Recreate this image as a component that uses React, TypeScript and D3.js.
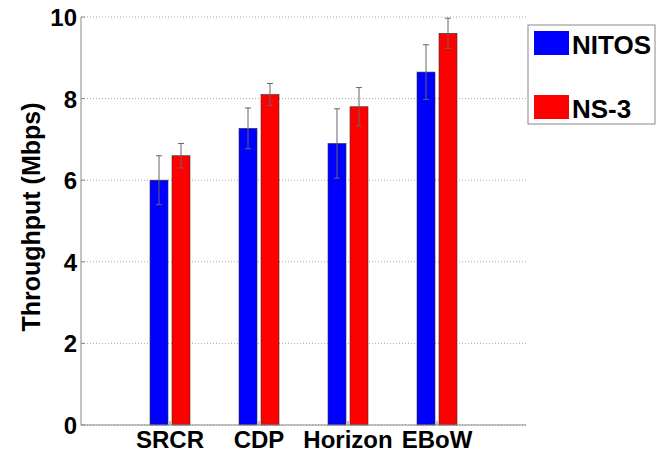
import React from 'react'
import * as d3 from 'd3'

const categories = ['SRCR', 'CDP', 'Horizon', 'EBoW']
const seriesNames = ['NITOS', 'NS-3']
const seriesColors = ['#0000ff', '#ff0000']
const nitosValues = [6.0, 7.27, 6.9, 8.65]
const nitosErrors = [0.6, 0.5, 0.85, 0.67]
const ns3Values = [6.6, 8.1, 7.8, 9.6]
const ns3Errors = [0.3, 0.27, 0.47, 0.37]
const yTicks = [0, 2, 4, 6, 8, 10]

const W = 656
const H = 454
const left = 81
const right = 526
const top = 17
const bottom = 425
const font = '"Liberation Sans", Arial, sans-serif'

export default function App() {
    const x = d3.scaleLinear().domain([0, 5]).range([left, right])
    const y = d3.scaleLinear().domain([0, 10]).range([bottom, top])
    const barW = 18
    const gap = 4
    const series = [
        { values: nitosValues, errors: nitosErrors },
        { values: ns3Values, errors: ns3Errors },
    ]

    return (
        <svg width={W} height={H} style={{ position: 'absolute', left: 0, top: 0, background: 'white' }}>
            {/* grid */}
            {yTicks.map(t => (
                <line key={'g' + t} x1={left} x2={right} y1={y(t)} y2={y(t)}
                    stroke="#aaa" strokeWidth={1} strokeDasharray="1,2" />
            ))}
            {/* bars */}
            {series.map((s, si) => s.values.map((v, i) => {
                const cx = x(i + 1)
                const bx = si === 0 ? cx - gap / 2 - barW : cx + gap / 2
                const mid = bx + barW / 2
                const e = s.errors[i]
                return (
                    <g key={si + '-' + i}>
                        <rect x={bx} y={y(v)} width={barW} height={y(0) - y(v)}
                            fill={seriesColors[si]} stroke="#333" strokeWidth={0.6} />
                        <line x1={mid} x2={mid} y1={y(v + e)} y2={y(v - e)} stroke="#666" strokeWidth={1} />
                        <line x1={mid - 3} x2={mid + 3} y1={y(v + e)} y2={y(v + e)} stroke="#666" strokeWidth={1} />
                        <line x1={mid - 3} x2={mid + 3} y1={y(v - e)} y2={y(v - e)} stroke="#666" strokeWidth={1} />
                    </g>
                )
            }))}
            {/* axes */}
            <line x1={left} x2={left} y1={top} y2={bottom} stroke="#888" strokeWidth={1} />
            <line x1={left} x2={right} y1={bottom} y2={bottom} stroke="#888" strokeWidth={1} />
            {yTicks.map(t => (
                <g key={'t' + t}>
                    <line x1={left} x2={left + 4} y1={y(t)} y2={y(t)} stroke="#888" />
                    <text x={77} y={y(t) + 9} textAnchor="end" fontFamily={font}
                        fontWeight="bold" fontSize={24} fill="#000">{t}</text>
                </g>
            ))}
            {categories.map((c, i) => (
                <g key={c}>
                    <line x1={x(i + 1)} x2={x(i + 1)} y1={bottom} y2={bottom - 4} stroke="#888" />
                    <text x={x(i + 1)} y={448} textAnchor="middle" fontFamily={font}
                        fontWeight="bold" fontSize={24} fill="#000">{c}</text>
                </g>
            ))}
            <text transform={`translate(40,${217}) rotate(-90)`} textAnchor="middle"
                fontFamily={font} fontWeight="bold" fontSize={25} fill="#000">Throughput (Mbps)</text>
            {/* legend */}
            <rect x={528} y={25} width={127} height={99} fill="white" stroke="#888" strokeWidth={1} />
            {seriesNames.map((n, i) => (
                <g key={n}>
                    <rect x={534} y={31 + i * 64} width={35} height={24} fill={seriesColors[i]} />
                    <text x={572} y={54 + i * 64} fontFamily={font} fontWeight="bold" fontSize={26} fill="#000">{n}</text>
                </g>
            ))}
        </svg>
    )
}
